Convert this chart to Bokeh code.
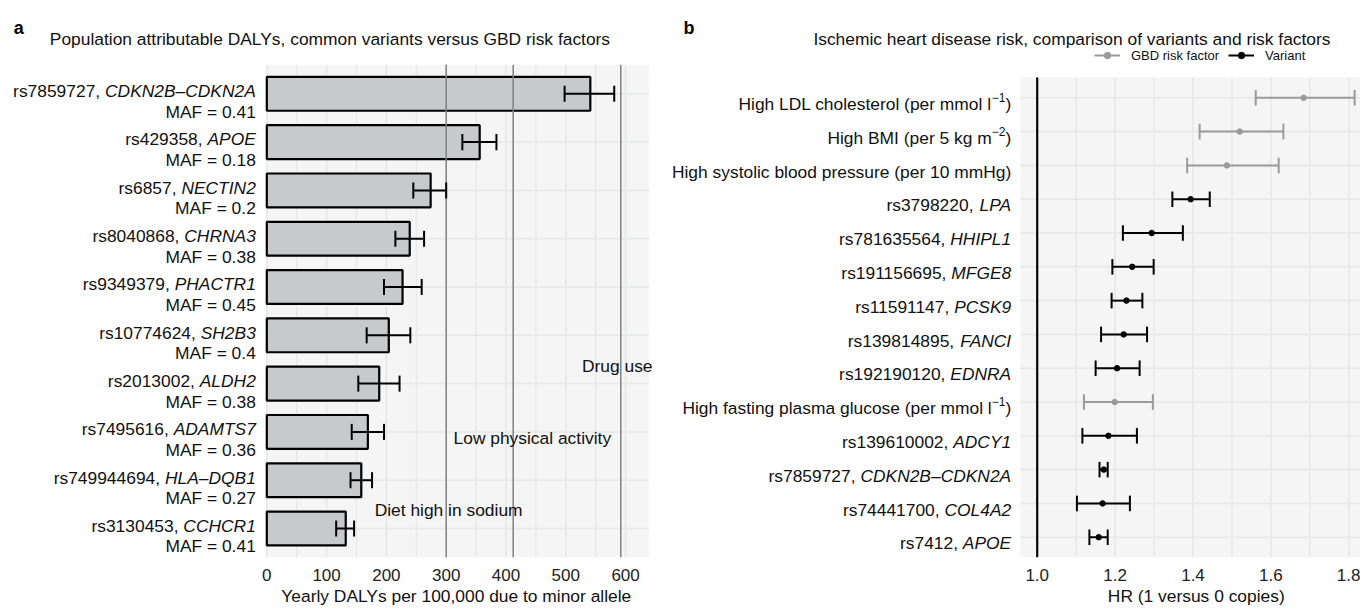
from bokeh.plotting import figure
from bokeh.models import (Range1d, FixedTicker, Label, Legend, LegendItem, Title,
                          ColumnDataSource, NumeralTickFormatter)
from bokeh.layouts import row
from bokeh.embed import file_html
from bokeh.resources import INLINE

FONT = "Liberation Sans"

# ---------------- Panel a data ----------------
snp_a = ["rs7859727", "rs429358", "rs6857", "rs8040868", "rs9349379",
         "rs10774624", "rs2013002", "rs7495616", "rs749944694", "rs3130453"]
gene_a = ["CDKN2B\u2013CDKN2A", "APOE", "NECTIN2", "CHRNA3", "PHACTR1",
          "SH2B3", "ALDH2", "ADAMTS7", "HLA\u2013DQB1", "CCHCR1"]
maf_a = ["0.41", "0.18", "0.2", "0.38", "0.45", "0.4", "0.38", "0.36", "0.27", "0.41"]
daly = [541, 356, 274, 239, 227, 204, 188, 169, 158, 132]
daly_lo = [498, 327, 245, 215, 196, 167, 153, 142, 140, 116]
daly_hi = [581, 384, 300, 263, 259, 240, 222, 196, 176, 146]
risk_name = ["Diet high in sodium", "Low physical activity", "Drug use"]
risk_daly = [300, 412, 592]
daly_ticks = [0, 100, 200, 300, 400, 500, 600]

# ---------------- Panel b data ----------------
name_b = ["High LDL cholesterol (per mmol l", "High BMI (per 5 kg m",
          "High systolic blood pressure (per 10 mmHg)", "rs3798220,", "rs781635564,",
          "rs191156695,", "rs11591147,", "rs139814895,", "rs192190120,",
          "High fasting plasma glucose (per mmol l", "rs139610002,", "rs7859727,",
          "rs74441700,", "rs7412,"]
gene_b = ["", "", "", "LPA", "HHIPL1", "MFGE8", "PCSK9", "FANCI", "EDNRA", "",
          "ADCY1", "CDKN2B\u2013CDKN2A", "COL4A2", "APOE"]
sup_b = ["\u22121", "\u22122", "", "", "", "", "", "", "", "\u22121", "", "", "", ""]
kind_b = ["GBD risk factor"] * 3 + ["Variant"] * 6 + ["GBD risk factor"] + ["Variant"] * 4
hr = [1.684, 1.520, 1.487, 1.394, 1.294, 1.244, 1.229, 1.222, 1.205, 1.199, 1.183, 1.171, 1.168, 1.158]
hr_lo = [1.561, 1.417, 1.385, 1.347, 1.220, 1.193, 1.191, 1.164, 1.150, 1.120, 1.116, 1.160, 1.102, 1.134]
hr_hi = [1.815, 1.632, 1.620, 1.443, 1.374, 1.299, 1.270, 1.282, 1.263, 1.297, 1.256, 1.181, 1.238, 1.181]
hr_ticks = [1.0, 1.2, 1.4, 1.6, 1.8]
hr_null = 1.0

# Arial / Liberation Sans advance widths (per 1000 em)
W = {' ': 278, ',': 278, '.': 278, '-': 333, '\u2013': 556, '=': 584, '(': 333, ')': 333,
     '\u2212': 584}
for d in "0123456789":
    W[d] = 556
W.update(dict(zip("ABCDEFGHIJKLMNOPQRSTUVWXYZ",
                  [667, 667, 722, 722, 667, 611, 778, 722, 278, 500, 667, 556, 833,
                   722, 778, 667, 778, 722, 667, 611, 722, 667, 944, 667, 667, 611])))
W.update(dict(zip("abcdefghijklmnopqrstuvwxyz",
                  [556, 556, 500, 556, 556, 278, 556, 556, 222, 222, 500, 222, 833,
                   556, 556, 556, 556, 333, 500, 278, 556, 500, 722, 500, 500, 500])))


def tw(s, size):
    return sum(W.get(c, 556) for c in s) * size / 1000.0


TXT = "#111111"
BG = "#f4f5f4"
GRID = "#e6e7e7"
FS = 17.4
WA, WB, H_FIG, B_BOT = 664, 696, 610, 53
FRAME_H = H_FIG - B_BOT


def right_pieces(p, x, y, x_off, y_off, pieces):
    """pieces: list of (text, size, style, dy) from left to right; right-aligned at x_off."""
    acc = 0.0
    for text, size, style, dy in reversed(pieces):
        if text.strip():
            p.add_layout(Label(x=x, y=y, x_offset=x_off - acc, y_offset=y_off + dy, text=text,
                               text_align="right", text_baseline="alphabetic",
                               text_font=FONT, text_font_size=f"{size}px",
                               text_font_style=style, text_color=TXT))
        acc += tw(text, size)


def style_axis(ax):
    ax.axis_line_color = None
    ax.major_tick_line_color = None
    ax.minor_tick_line_color = None
    ax.major_label_text_font = FONT
    ax.major_label_text_font_size = "17px"
    ax.major_label_text_color = "#222222"
    ax.major_label_standoff = 5


def axis_title(p, text, center_px):
    p.add_layout(Title(text=text, align="left", offset=center_px - tw(text, FS) / 2,
                       text_font=FONT, text_font_size=f"{FS}px", text_font_style="normal",
                       text_color=TXT, standoff=0), "below")


def base_fig(width, x_range, y_range):
    p = figure(width=width, height=H_FIG, x_range=x_range, y_range=y_range,
               output_backend="svg", toolbar_location=None,
               min_border_left=0, min_border_right=0, min_border_top=0, min_border_bottom=B_BOT)
    p.background_fill_color = "white"
    p.border_fill_color = "white"
    p.outline_line_color = None
    p.yaxis.visible = False
    p.xgrid.visible = False
    p.ygrid.visible = False
    return p


# ================= Panel a =================
n_a = len(daly)
y_a = [n_a - i for i in range(n_a)]
ax0_px, sx_a, row_a = 266.3, 0.598, 48.3          # panel left pixel, px per DALY, px per row
xa0, xa1 = 0.0, 638.8                              # panel x limits
ya0, ya1 = 0.4, n_a + 0.6                          # panel y limits
pa = base_fig(WA, Range1d(-ax0_px / sx_a, (WA - ax0_px) / sx_a),
              Range1d(ya0, ya0 + FRAME_H / row_a))

pa.quad(left=[xa0], right=[xa1], bottom=[ya0], top=[ya1], fill_color=BG, line_color=None)
minor_a = [t + 50 for t in daly_ticks if t + 50 < xa1]
pa.segment(x0=minor_a, y0=ya0, x1=minor_a, y1=ya1, line_color=GRID, line_width=1.2)
pa.segment(x0=daly_ticks, y0=ya0, x1=daly_ticks, y1=ya1, line_color=GRID, line_width=1.5)
pa.segment(x0=xa0, y0=y_a, x1=xa1, y1=y_a, line_color=GRID, line_width=1.5)

src_a = ColumnDataSource(dict(y=y_a, v=daly, lo=daly_lo, hi=daly_hi,
                              ylo=[y - 0.166 for y in y_a], yhi=[y + 0.166 for y in y_a]))
pa.hbar(y="y", left=0, right="v", height=0.7, source=src_a,
        fill_color="#c8c9cb", line_color="black", line_width=2.2)
pa.segment(x0=risk_daly, y0=ya0, x1=risk_daly, y1=ya1, line_color="#808080", line_width=1.5)
pa.segment(x0="lo", y0="y", x1="hi", y1="y", source=src_a, line_color="black", line_width=2)
pa.segment(x0="lo", y0="ylo", x1="lo", y1="yhi", source=src_a, line_color="black", line_width=2)
pa.segment(x0="hi", y0="ylo", x1="hi", y1="yhi", source=src_a, line_color="black", line_width=2)

risk_label_x = [304, 444, 586]
risk_label_row = [1.5, 3, 4.5]
for name, x, r in zip(risk_name, risk_label_x, risk_label_row):
    pa.add_layout(Label(x=x, y=r, y_offset=-6.1, text=name, text_align="center",
                        text_baseline="alphabetic", text_font=FONT, text_font_size=f"{FS}px",
                        text_color=TXT))

for yy, s, g, m in zip(y_a, snp_a, gene_a, maf_a):
    right_pieces(pa, xa0, yy, -11, 2.7, [(s + ",", FS, "normal", 0), (" ", FS, "normal", 0),
                                         (g, FS, "italic", 0)])
    right_pieces(pa, xa0, yy, -11, -17.9, [("MAF = " + m, FS, "normal", 0)])

pa.xaxis.ticker = FixedTicker(ticks=daly_ticks)
style_axis(pa.xaxis[0])
axis_title(pa, "Yearly DALYs per 100,000 due to minor allele", ax0_px + xa1 * sx_a / 2)

pa.add_layout(Label(x=xa0, y=ya1, x_offset=-217, y_offset=25.7,
                    text="Population attributable DALYs, common variants versus GBD risk factors",
                    text_align="left", text_baseline="alphabetic", text_font=FONT,
                    text_font_size=f"{FS}px", text_color=TXT))
pa.add_layout(Label(x=xa0, y=ya1, x_offset=-253, y_offset=36.7, text="a",
                    text_align="left", text_baseline="alphabetic",
                    text_font=FONT, text_font_size="18px",
                    text_font_style="bold", text_color="black"))

# ================= Panel b =================
n_b = len(hr)
y_b = [n_b - i for i in range(n_b)]
null_px, sx_b, row_b = 1036.7 - WA, 389.5, 33.8   # px of HR=1 in figure, px per HR unit, px per row
xb0 = 0.9571                                       # panel left limit
yb0, yb1 = 0.4, n_b + 0.6
xb_end = hr_null + (WB - null_px) / sx_b
pb = base_fig(WB, Range1d(hr_null - null_px / sx_b, xb_end),
              Range1d(yb0, yb0 + FRAME_H / row_b))
panel_b_left_px = null_px - (hr_null - xb0) * sx_b

pb.quad(left=[xb0], right=[xb_end], bottom=[yb0], top=[yb1], fill_color=BG, line_color=None)
minor_b = [round(t + 0.1, 1) for t in hr_ticks if t + 0.1 < xb_end]
pb.segment(x0=minor_b, y0=yb0, x1=minor_b, y1=yb1, line_color=GRID, line_width=1.2)
pb.segment(x0=hr_ticks, y0=yb0, x1=hr_ticks, y1=yb1, line_color=GRID, line_width=1.5)
pb.segment(x0=xb0, y0=y_b, x1=xb_end, y1=y_b, line_color=GRID, line_width=1.5)
pb.segment(x0=[hr_null], y0=yb0, x1=[hr_null], y1=yb1, line_color="black", line_width=2.2)

colors = {"GBD risk factor": "#9a9a9a", "Variant": "#000000"}
items = []
for kind in ["GBD risk factor", "Variant"]:
    idx = [i for i, k in enumerate(kind_b) if k == kind]
    src = ColumnDataSource(dict(y=[y_b[i] for i in idx], hr=[hr[i] for i in idx],
                                lo=[hr_lo[i] for i in idx], hi=[hr_hi[i] for i in idx],
                                ylo=[y_b[i] - 0.23 for i in idx], yhi=[y_b[i] + 0.23 for i in idx]))
    c = colors[kind]
    wr = pb.segment(x0="lo", y0="y", x1="hi", y1="y", source=src, line_color=c, line_width=2)
    pb.segment(x0="lo", y0="ylo", x1="lo", y1="yhi", source=src, line_color=c, line_width=2)
    pb.segment(x0="hi", y0="ylo", x1="hi", y1="yhi", source=src, line_color=c, line_width=2)
    pr = pb.scatter(x="hr", y="y", source=src, size=5.5, color=c)
    items.append(LegendItem(label=kind, renderers=[wr, pr]))

legend = Legend(items=items, location=(panel_b_left_px + 74, 494), orientation="horizontal",
                label_text_font=FONT, label_text_font_size="13px", label_text_color=TXT,
                glyph_width=26, glyph_height=16, label_height=16, label_standoff=11, spacing=9,
                padding=0, margin=0, border_line_color=None, background_fill_alpha=0)
pb.add_layout(legend)

for yy, nm, g, sp in zip(y_b, name_b, gene_b, sup_b):
    if g:
        pieces = [(nm, FS, "normal", 0), (" ", FS, "normal", 0), (g, FS, "italic", 0)]
    elif sp:
        pieces = [(nm, FS, "normal", 0), (sp, 12, "normal", 6.5), (")", FS, "normal", 0)]
    else:
        pieces = [(nm, FS, "normal", 0)]
    right_pieces(pb, xb0, yy, -9.3, -6.1, pieces)

pb.xaxis.ticker = FixedTicker(ticks=hr_ticks)
pb.xaxis.formatter = NumeralTickFormatter(format="0.0")
style_axis(pb.xaxis[0])
axis_title(pb, "HR (1 versus 0 copies)", 1195.8 - WA)

pb.add_layout(Label(x=xb0, y=yb1, x_offset=310, y_offset=38.7,
                    text="Ischemic heart disease risk, comparison of variants and risk factors",
                    text_align="right", text_baseline="alphabetic", text_font=FONT,
                    text_font_size=f"{FS}px", text_color=TXT))
pb.add_layout(Label(x=xb0, y=yb1, x_offset=-337, y_offset=50, text="b",
                    text_align="left", text_baseline="alphabetic",
                    text_font=FONT, text_font_size="18px",
                    text_font_style="bold", text_color="black"))

layout = row(pa, pb)
open("out.html", "w").write(file_html(layout, INLINE))
